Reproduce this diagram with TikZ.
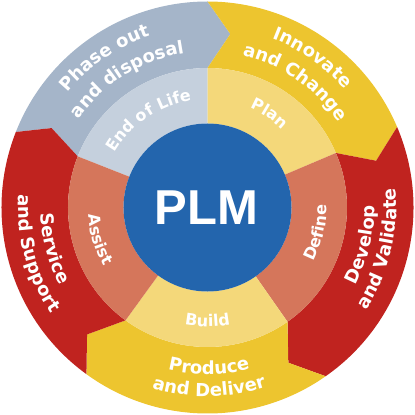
\documentclass[tikz,border=0pt]{standalone}
\usepackage{fontspec}
\setmainfont{Liberation Sans}
\newfontfamily\ringfont{DejaVu Sans}
\usetikzlibrary{decorations.text}
\definecolor{cgray}{HTML}{A5B5C9}
\definecolor{cgrayL}{HTML}{C5D0DD}
\definecolor{cyel}{HTML}{EDC52F}
\definecolor{cyelL}{HTML}{F4D87A}
\definecolor{cred}{HTML}{C0231F}
\definecolor{csal}{HTML}{D5765B}
\definecolor{cblue}{HTML}{2365AD}
% #1 start angle, #2 end angle, #3 radius, #4 font size, #5 text
\newcommand\ringlabel[5]{%
  \path[decorate,decoration={text along path,text align=center,text color=white,
    text={|\ringfont\bfseries\fontsize{#4}{#4}\selectfont|#5}}]
    (#1:#3) arc[start angle=#1,end angle=#2,radius=#3];}
\begin{document}
\begin{tikzpicture}[x=1pt,y=1pt]
\useasboundingbox (-207.5,-207.5) rectangle (207.5,207.5);
% outer ring (arrow segments)
\fill[cgray] (158.5:206) arc[start angle=158.5,end angle=90,radius=206] -- (82.5:175) -- (90:139.5) arc[start angle=90,end angle=158.5,radius=139.5] -- (153:175) -- cycle;
\fill[cyel] (90:206) arc[start angle=90,end angle=23,radius=206] -- (15.5:175) -- (23:139.5) arc[start angle=23,end angle=90,radius=139.5] -- (82.5:175) -- cycle;
\fill[cred] (23:206) arc[start angle=23,end angle=-55,radius=206] -- (-62.5:175) -- (-55:139.5) arc[start angle=-55,end angle=23,radius=139.5] -- (15.5:175) -- cycle;
\fill[cyel] (-55:206) arc[start angle=-55,end angle=-126,radius=206] -- (-133.5:175) -- (-126:139.5) arc[start angle=-126,end angle=-55,radius=139.5] -- (-62.5:175) -- cycle;
\fill[cred] (-126:206) arc[start angle=-126,end angle=-201.5,radius=206] -- (-207:175) -- (-201.5:139.5) arc[start angle=-201.5,end angle=-126,radius=139.5] -- (-133.5:175) -- cycle;
% middle ring
\fill[cgrayL] (158.5:139.5) arc[start angle=158.5,end angle=90,radius=139.5] -- (90:84) arc[start angle=90,end angle=158.5,radius=84] -- cycle;
\fill[cyelL] (90:139.5) arc[start angle=90,end angle=23,radius=139.5] -- (23:84) arc[start angle=23,end angle=90,radius=84] -- cycle;
\fill[csal] (23:139.5) arc[start angle=23,end angle=-55,radius=139.5] -- (-55:84) arc[start angle=-55,end angle=23,radius=84] -- cycle;
\fill[cyelL] (-55:139.5) arc[start angle=-55,end angle=-126,radius=139.5] -- (-126:84) arc[start angle=-126,end angle=-55,radius=84] -- cycle;
\fill[csal] (-126:139.5) arc[start angle=-126,end angle=-201.5,radius=139.5] -- (-201.5:84) arc[start angle=-201.5,end angle=-126,radius=84] -- cycle;
% centre
\fill[cblue] (0,0) circle[radius=84];
\node[anchor=base,inner sep=0pt,text=white,font=\bfseries\fontsize{49}{49}\selectfont] (plm) at (-1,-17) {PLM};
% outer ring labels
\ringlabel{194.5}{54.5}{181}{18}{Phase out}
\ringlabel{192}{52}{156}{18}{and disposal}
\ringlabel{125}{-15}{181}{18}{Innovate}
\ringlabel{125}{-15}{156}{18}{and Change}
\ringlabel{-83.5}{56.5}{167}{18}{Develop}
\ringlabel{-83.5}{56.5}{189}{18}{and Validate}
\ringlabel{-159.5}{-19.5}{167}{18}{Produce}
\ringlabel{-159.5}{-19.5}{189}{18}{and Deliver}
\ringlabel{125}{265}{167}{18}{Service}
\ringlabel{125}{265}{189}{18}{and Support}
% middle ring labels
\ringlabel{194}{54}{108}{16}{End of Life}
\ringlabel{126.5}{-13.5}{108}{16}{Plan}
\ringlabel{-83}{57}{119}{16}{Define}
\ringlabel{-160}{-20}{119}{16}{Build}
\ringlabel{126.5}{266.5}{119}{16}{Assist}
\end{tikzpicture}
\end{document}
